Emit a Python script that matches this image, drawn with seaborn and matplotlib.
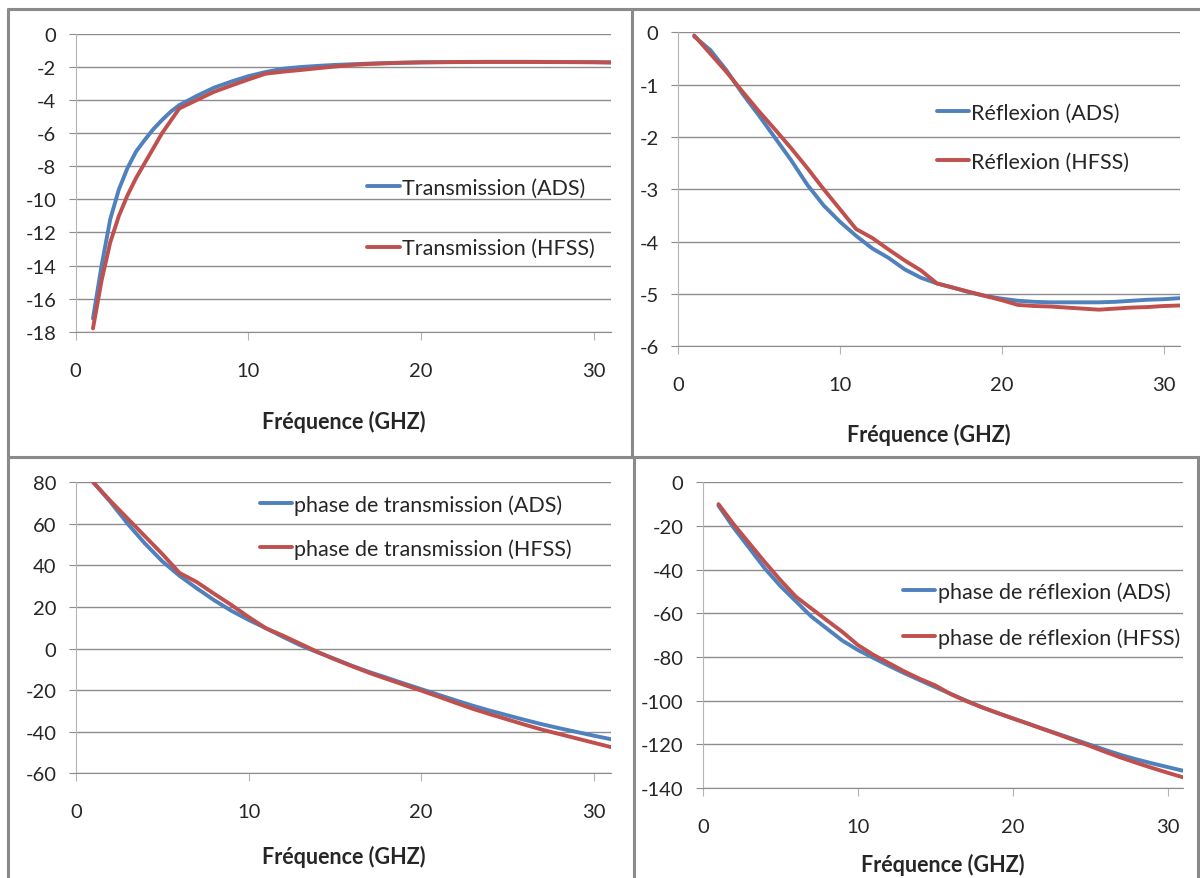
import numpy as np
import pandas as pd
import matplotlib
matplotlib.use("Agg")
import matplotlib.pyplot as plt
import seaborn as sns
from matplotlib import font_manager
from matplotlib.lines import Line2D

# Frequency axes (GHz)
freq_tl = [1, 1.5, 2, 2.5, 3, 3.5, 4, 4.5, 5, 5.5, 6, 7, 8, 9, 10, 11, 12, 13, 14,
           15, 16, 17, 18, 19, 20, 22, 24, 26, 28, 30, 31]
freq = list(range(1, 32))

# Transmission magnitude (dB)
trans_ads = [-17.2, -14.0, -11.2, -9.4, -8.1, -7.1, -6.4, -5.75, -5.2, -4.7, -4.3,
             -3.75, -3.25, -2.88, -2.55, -2.3, -2.1, -2.0, -1.93, -1.87, -1.83, -1.79,
             -1.76, -1.73, -1.71, -1.69, -1.68, -1.68, -1.69, -1.7, -1.72]
trans_hfss = [-17.8, -14.9, -12.6, -11.0, -9.75, -8.7, -7.8, -6.9, -6.0, -5.25, -4.5,
              -4.0, -3.5, -3.12, -2.75, -2.4, -2.28, -2.18, -2.07, -1.97, -1.87, -1.81,
              -1.77, -1.74, -1.72, -1.7, -1.69, -1.69, -1.7, -1.71, -1.72]

# Reflection magnitude (dB)
refl_ads = [-0.08, -0.34, -0.73, -1.18, -1.59, -2.02, -2.45, -2.92, -3.31, -3.62,
            -3.89, -4.13, -4.31, -4.53, -4.69, -4.8, -4.88, -4.97, -5.04, -5.09,
            -5.13, -5.15, -5.16, -5.16, -5.16, -5.16, -5.15, -5.13, -5.11, -5.1, -5.08]
refl_hfss = [-0.06, -0.41, -0.76, -1.14, -1.51, -1.86, -2.22, -2.6, -3.0, -3.38,
             -3.76, -3.93, -4.15, -4.36, -4.55, -4.8, -4.88, -4.96, -5.04, -5.12,
             -5.21, -5.23, -5.24, -5.26, -5.28, -5.3, -5.28, -5.26, -5.25, -5.23, -5.22]

# Transmission phase (deg)
ptrans_ads = [80, 70.5, 60, 50.5, 42, 35, 29, 23.3, 18.2, 13.8,
              9.8, 5.6, 1.6, -1.8, -5, -8.3, -11.3, -14, -16.8, -19.5,
              -22.2, -24.9, -27.5, -29.9, -32.1, -34.3, -36.4, -38.3, -40.1, -41.9, -43.6]
ptrans_hfss = [80, 71, 62.5, 54, 45.5, 36.4, 32, 26.4, 21, 15.2,
               9.8, 6.2, 2.3, -1.6, -5.2, -8.5, -11.7, -14.6, -17.4, -20.2,
               -23.1, -26.1, -29, -31.6, -34.1, -36.6, -39, -41.1, -43.2, -45.3, -47.4]

# Reflection phase (deg)
prefl_ads = [-10.7, -21, -30.2, -39.5, -47.5, -54.5, -61.5, -67, -72.5, -76.8,
             -80.4, -84, -87.4, -90.6, -93.8, -96.9, -100, -103, -105.6, -108.1,
             -110.5, -113, -115.4, -117.8, -120.2, -122.6, -124.9, -126.9, -128.7, -130.4, -132.1]
prefl_hfss = [-10, -19.4, -28, -36.6, -44.8, -52.4, -57.8, -63.2, -68.5, -74.5,
              -79, -82.8, -86.6, -90, -93, -97, -100.2, -103, -105.6, -108.1,
              -110.6, -113.1, -115.6, -118.2, -120.8, -123.5, -126.1, -128.5, -130.8, -133, -135.1]

sns.set_style("white")

# Excel look: narrow sans if there is one, Lato otherwise
try:
    font_manager.findfont("Liberation Sans Narrow", fallback_to_default=False)
    FONT, K = "Liberation Sans Narrow", 1.12
except ValueError:
    FONT, K = "Lato", 1.0
plt.rcParams["font.family"] = [FONT, "DejaVu Sans"]
plt.rcParams["axes.unicode_minus"] = False

TICK_FS = 14.5 * K
LEG_FS = 15.5 * K
LAB_FS = 15.5 * K

BLUE = "#4F81BD"
RED = "#C0504D"
GRID = "#8C8C8C"
W, H = 1200.0, 879.0


def make_df(x, ads, hfss, name):
    return pd.DataFrame({
        "freq": list(x) * 2,
        "val": ads + hfss,
        "serie": [f"{name} (ADS)"] * len(x) + [f"{name} (HFSS)"] * len(x),
    })


def draw(ax, df, yticks, leg_x, leg_y, row_px, lab_px):
    sns.lineplot(data=df, x="freq", y="val", hue="serie",
                 palette=[BLUE, RED], linewidth=2.8, ax=ax)
    ax.set_xlim(0, 31)
    ax.set_ylim(yticks[0], yticks[-1])
    ax.set_xticks([0, 10, 20, 30])
    ax.set_yticks(yticks)
    ax.yaxis.grid(True, color=GRID, linewidth=1)
    ax.set_axisbelow(True)
    for s in ["top", "right"]:
        ax.spines[s].set_visible(False)
    ax.spines["left"].set_color("#B4B4B4")
    ax.spines["bottom"].set_color(GRID)
    ax.tick_params(axis="y", direction="out", length=5, color=GRID,
                   labelsize=TICK_FS, pad=9, left=True)
    ax.tick_params(axis="x", direction="out", length=6, color="#B4B4B4",
                   labelsize=TICK_FS, pad=15.5, bottom=True)
    ax.set_ylabel("")
    ax.set_xlabel("Fréquence (GHZ)", fontsize=LAB_FS, fontweight="bold", va="center")
    ax_h = ax.get_position().height * H
    ax.xaxis.set_label_coords(0.5, -lab_px / ax_h)
    fs_px = LEG_FS * 100 / 72
    handles, labels = ax.get_legend_handles_labels()
    ax.legend(handles, labels, loc="center left", bbox_to_anchor=(leg_x, leg_y),
              frameon=False, fontsize=LEG_FS, handlelength=1.5 / K, handletextpad=0.1,
              labelspacing=(row_px - fs_px) / fs_px, borderpad=0, borderaxespad=0)


fig = plt.figure(figsize=(12, 8.79), dpi=100)

ax1 = fig.add_axes([75.7 / W, 1 - 332.7 / H, 535.3 / W, 297.7 / H])
ax2 = fig.add_axes([678 / W, 1 - 347.3 / H, 502 / W, 314 / H])
ax3 = fig.add_axes([76 / W, 1 - 774.3 / H, 535 / W, 291 / H])
ax4 = fig.add_axes([703 / W, 1 - 789 / H, 480 / W, 305.7 / H])

draw(ax1, make_df(freq_tl, trans_ads, trans_hfss, "Transmission"),
     list(range(-18, 1, 2)), 0.545, 0.382, 62, 89)
draw(ax2, make_df(freq, refl_ads, refl_hfss, "Réflexion"),
     list(range(-6, 1, 1)), 0.515, 0.666, 50, 88)
draw(ax3, make_df(freq, ptrans_ads, ptrans_hfss, "phase de transmission"),
     list(range(-60, 81, 20)), 0.343, 0.848, 45, 83)
draw(ax4, make_df(freq, prefl_ads, prefl_hfss, "phase de réflexion"),
     list(range(-140, 1, 20)), 0.417, 0.568, 47, 76)

# panel borders
border = dict(color="#8A8A8A", linewidth=2.2, transform=fig.transFigure)
fig.add_artist(Line2D([8 / W, 1], [1 - 10 / H, 1 - 10 / H], **border))
fig.add_artist(Line2D([8 / W, 8 / W], [1 - 10 / H, 0], **border))
fig.add_artist(Line2D([8 / W, 1], [1 - 458 / H, 1 - 458 / H], **border))
fig.add_artist(Line2D([632 / W, 632 / W], [1 - 10 / H, 1 - 458 / H], **border))
fig.add_artist(Line2D([634 / W, 634 / W], [1 - 458 / H, 0], **border))
fig.add_artist(Line2D([1198 / W, 1198 / W], [1 - 458 / H, 0], **border))

fig.savefig("out.png", dpi=100)
